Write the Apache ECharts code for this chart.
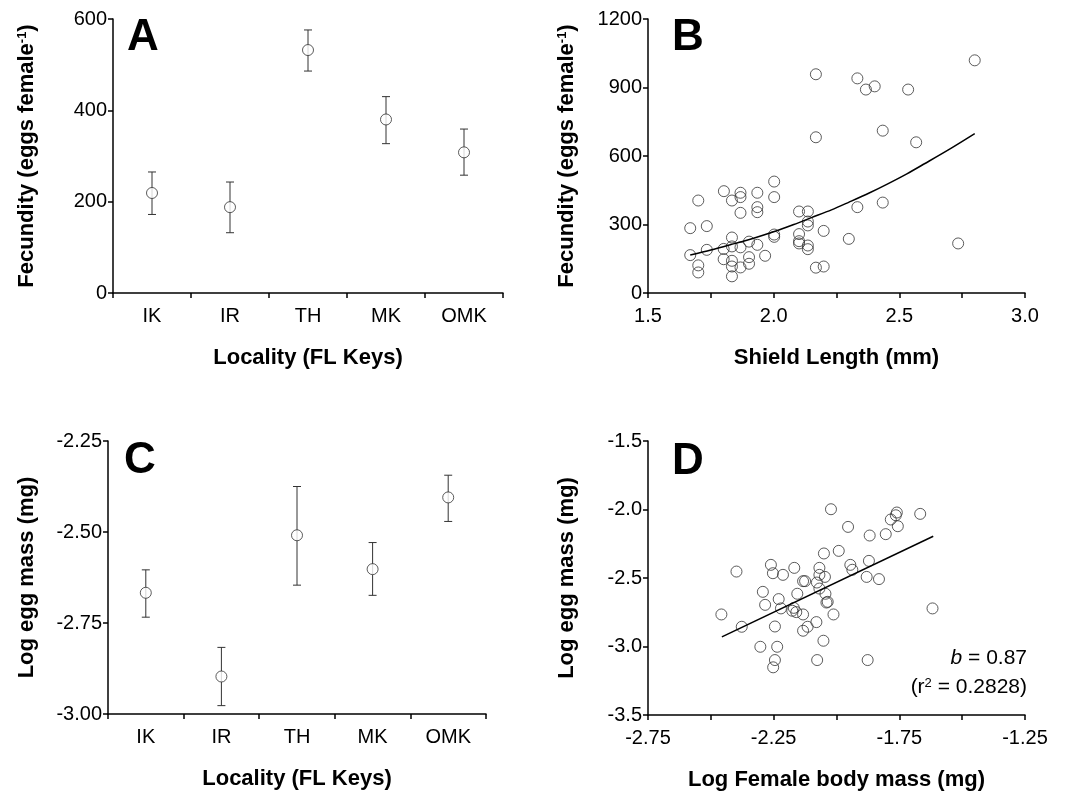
<!DOCTYPE html>
<html>
<head>
<meta charset="utf-8">
<script src="https://cdn.jsdelivr.net/npm/echarts@6.0.0/dist/echarts.min.js"></script>
<style>
  html, body { margin: 0; padding: 0; background: #fff; }
  #main { width: 1084px; height: 792px; }
</style>
</head>
<body>
<div id="main"></div>
<script>
// panel A / C categories
var localities = ['IK', 'IR', 'TH', 'MK', 'OMK'];

// A: fecundity (eggs per female), mean with error bar ends
var fecMean = [219, 188, 532, 380, 308];
var fecLow  = [172, 132, 486, 327, 258];
var fecHigh = [265, 243, 576, 430, 359];

// C: log egg mass (mg)
var eggMean = [-2.667, -2.897, -2.509, -2.602, -2.405];
var eggLow  = [-2.734, -2.977, -2.646, -2.674, -2.471];
var eggHigh = [-2.604, -2.817, -2.375, -2.529, -2.344];

// B: shield length (mm) vs fecundity
var shieldPts = [
  [2.80, 1019], [2.168, 958], [2.333, 940], [2.367, 891], [2.402, 905], [2.535, 891],
  [2.434, 711], [2.168, 682], [2.567, 660], [2.002, 488], [1.802, 446], [1.868, 439],
  [1.868, 420], [1.935, 439], [1.700, 405], [1.834, 405], [2.002, 420], [1.935, 376],
  [1.935, 354], [1.868, 351], [2.101, 357], [2.136, 357], [2.333, 376], [2.434, 396],
  [1.668, 284], [1.734, 293], [2.136, 313], [2.136, 296], [2.199, 272], [2.101, 258],
  [2.002, 256], [2.002, 246], [2.299, 237], [2.734, 217], [2.101, 227], [2.101, 217],
  [2.136, 208], [2.136, 192], [1.834, 243], [1.902, 225], [1.935, 211], [1.801, 193],
  [1.834, 204], [1.868, 200], [1.734, 189], [1.668, 166], [1.966, 163], [1.902, 157],
  [1.801, 148], [1.834, 141], [1.902, 128], [1.700, 121], [1.834, 116], [1.868, 112],
  [1.700, 90], [2.168, 111], [2.199, 116], [1.834, 73]
];
// B: fitted curve
var shieldCurve = [
  [1.668, 166], [1.75, 188], [1.83, 212], [1.92, 240], [2.0, 268], [2.08, 300],
  [2.15, 330], [2.23, 364], [2.3, 398], [2.38, 438], [2.45, 476], [2.53, 522],
  [2.6, 566], [2.7, 630], [2.80, 698]
];

// D: log female body mass vs log egg mass
var massPts = [
  [-2.458, -2.766], [-2.398, -2.453], [-2.377, -2.856], [-2.303, -3.002], [-2.293, -2.601],
  [-2.284, -2.696], [-2.261, -2.404], [-2.253, -2.465], [-2.245, -2.854], [-2.245, -3.099],
  [-2.252, -3.152], [-2.236, -3.002], [-2.230, -2.654], [-2.221, -2.722], [-2.213, -2.477],
  [-2.176, -2.739], [-2.170, -2.718], [-2.168, -2.426], [-2.160, -2.749], [-2.156, -2.615],
  [-2.133, -2.523], [-2.125, -2.523], [-2.133, -2.766], [-2.133, -2.885], [-2.115, -2.856],
  [-2.080, -2.822], [-2.077, -3.099], [-2.078, -2.533], [-2.068, -2.477], [-2.068, -2.426],
  [-2.068, -2.577], [-2.052, -2.958], [-2.050, -2.321], [-2.046, -2.492], [-2.044, -2.615],
  [-2.040, -2.679], [-2.035, -2.674], [-2.022, -1.998], [-2.012, -2.766], [-1.991, -2.302],
  [-1.954, -2.127], [-1.945, -2.404], [-1.937, -2.440], [-1.880, -2.492], [-1.876, -3.099],
  [-1.871, -2.375], [-1.868, -2.190], [-1.831, -2.508], [-1.804, -2.180], [-1.784, -2.073],
  [-1.764, -2.042], [-1.760, -2.022], [-1.756, -2.122], [-1.667, -2.032], [-1.618, -2.722]
];
var massLine = [[-2.456, -2.930], [-1.615, -2.195]];

var FONT = 'Liberation Sans, Arial, sans-serif';

function errorBarItem(params, api) {
  var x = api.value(0);
  var top = api.coord([x, api.value(2)]);
  var bot = api.coord([x, api.value(1)]);
  var h = 4;
  var st = { stroke: '#333', lineWidth: 1 };
  return {
    type: 'group',
    children: [
      { type: 'line', shape: { x1: top[0], y1: top[1], x2: bot[0], y2: bot[1] }, style: st },
      { type: 'line', shape: { x1: top[0] - h, y1: top[1], x2: top[0] + h, y2: top[1] }, style: st },
      { type: 'line', shape: { x1: bot[0] - h, y1: bot[1], x2: bot[0] + h, y2: bot[1] }, style: st }
    ]
  };
}

var axisLineStyle = { show: true, lineStyle: { color: '#000', width: 1.5 } };
var tickStyle = { show: true, length: 5, lineStyle: { color: '#000', width: 1.5 } };
var nameStyle = {
  fontSize: 22, fontWeight: 'bold', color: '#000', fontFamily: FONT,
  rich: { sup: { fontSize: 13, fontWeight: 'bold', color: '#000', fontFamily: FONT, verticalAlign: 'top', lineHeight: 14 } }
};
function lbl(extra) {
  var o = { color: '#000', fontSize: 20, fontFamily: FONT };
  for (var k in extra) o[k] = extra[k];
  return o;
}

function catX(idx) {
  return {
    type: 'category', gridIndex: idx, data: localities, boundaryGap: true,
    name: 'Locality (FL Keys)', nameLocation: 'middle', nameGap: 54, nameTextStyle: nameStyle,
    axisLine: axisLineStyle, axisTick: tickStyle, axisLabel: lbl({ margin: 13 }),
    splitLine: { show: false }
  };
}

var chart = echarts.init(document.getElementById('main'));

chart.setOption({
  animation: false,
  backgroundColor: '#fff',
  grid: [
    { left: 113, top: 19, width: 390, height: 274 },
    { left: 648, top: 19, width: 377, height: 274 },
    { left: 108, top: 441, width: 378, height: 273 },
    { left: 648, top: 441, width: 377, height: 274 }
  ],
  xAxis: [
    catX(0),
    {
      type: 'value', gridIndex: 1, min: 1.5, max: 3.0, interval: 0.25,
      name: 'Shield Length (mm)', nameLocation: 'middle', nameGap: 54, nameTextStyle: nameStyle,
      axisLine: axisLineStyle, axisTick: tickStyle, splitLine: { show: false },
      axisLabel: lbl({
        margin: 13, showMinLabel: true, showMaxLabel: true,
        formatter: function (v) {
          var k = Math.round((v - 1.5) / 0.25);
          return k % 2 === 0 ? v.toFixed(1) : '';
        }
      })
    },
    catX(2),
    {
      type: 'value', gridIndex: 3, min: -2.75, max: -1.25, interval: 0.25,
      name: 'Log Female body mass (mg)', nameLocation: 'middle', nameGap: 54, nameTextStyle: nameStyle,
      axisLine: axisLineStyle, axisTick: tickStyle, splitLine: { show: false },
      axisLabel: lbl({
        margin: 13, showMinLabel: true, showMaxLabel: true,
        formatter: function (v) {
          var k = Math.round((v + 2.75) / 0.25);
          return k % 2 === 0 ? v.toFixed(2) : '';
        }
      })
    }
  ],
  yAxis: [
    {
      type: 'value', gridIndex: 0, min: 0, max: 600, interval: 200,
      name: 'Fecundity (eggs female{sup|-1})', nameLocation: 'middle', nameGap: 75, nameTextStyle: nameStyle,
      axisLine: axisLineStyle, axisTick: tickStyle, splitLine: { show: false },
      axisLabel: lbl({ margin: 6, formatter: function (v) { return String(v); } })
    },
    {
      type: 'value', gridIndex: 1, min: 0, max: 1200, interval: 300,
      name: 'Fecundity (eggs female{sup|-1})', nameLocation: 'middle', nameGap: 70, nameTextStyle: nameStyle,
      axisLine: axisLineStyle, axisTick: tickStyle, splitLine: { show: false },
      axisLabel: lbl({ margin: 6, formatter: function (v) { return String(v); } })
    },
    {
      type: 'value', gridIndex: 2, min: -3.0, max: -2.25, interval: 0.25,
      name: 'Log egg mass (mg)', nameLocation: 'middle', nameGap: 70, nameTextStyle: nameStyle,
      axisLine: axisLineStyle, axisTick: tickStyle, splitLine: { show: false },
      axisLabel: lbl({ margin: 6, formatter: function (v) { return v.toFixed(2); } })
    },
    {
      type: 'value', gridIndex: 3, min: -3.5, max: -1.5, interval: 0.5,
      name: 'Log egg mass (mg)', nameLocation: 'middle', nameGap: 70, nameTextStyle: nameStyle,
      axisLine: axisLineStyle, axisTick: tickStyle, splitLine: { show: false },
      axisLabel: lbl({ margin: 6, formatter: function (v) { return v.toFixed(1); } })
    }
  ],
  series: [
    {
      type: 'custom', xAxisIndex: 0, yAxisIndex: 0, renderItem: errorBarItem, z: 2,
      data: localities.map(function (c, i) { return [i, fecLow[i], fecHigh[i]]; })
    },
    {
      type: 'scatter', xAxisIndex: 0, yAxisIndex: 0, symbol: 'circle', symbolSize: 11, z: 3,
      itemStyle: { color: '#fff', borderColor: '#333', borderWidth: 1 },
      data: fecMean
    },
    {
      type: 'scatter', xAxisIndex: 1, yAxisIndex: 1, symbol: 'circle', symbolSize: 11, z: 3,
      itemStyle: { color: 'rgba(255,255,255,0)', borderColor: '#333', borderWidth: 1 },
      data: shieldPts
    },
    {
      type: 'line', xAxisIndex: 1, yAxisIndex: 1, smooth: 0.3, showSymbol: false, z: 4,
      lineStyle: { color: '#000', width: 1.5 },
      data: shieldCurve
    },
    {
      type: 'custom', xAxisIndex: 2, yAxisIndex: 2, renderItem: errorBarItem, z: 2,
      data: localities.map(function (c, i) { return [i, eggLow[i], eggHigh[i]]; })
    },
    {
      type: 'scatter', xAxisIndex: 2, yAxisIndex: 2, symbol: 'circle', symbolSize: 11, z: 3,
      itemStyle: { color: '#fff', borderColor: '#333', borderWidth: 1 },
      data: eggMean
    },
    {
      type: 'scatter', xAxisIndex: 3, yAxisIndex: 3, symbol: 'circle', symbolSize: 11, z: 3,
      itemStyle: { color: 'rgba(255,255,255,0)', borderColor: '#333', borderWidth: 1 },
      data: massPts
    },
    {
      type: 'line', xAxisIndex: 3, yAxisIndex: 3, showSymbol: false, z: 4,
      lineStyle: { color: '#000', width: 1.5 },
      data: massLine
    }
  ],
  graphic: [
    { type: 'text', x: 127, y: 38, style: { text: 'A', font: 'bold 44px ' + FONT, fill: '#000', textAlign: 'left', textVerticalAlign: 'middle', align: 'left', verticalAlign: 'middle' } },
    { type: 'text', x: 672, y: 38, style: { text: 'B', font: 'bold 44px ' + FONT, fill: '#000', textAlign: 'left', textVerticalAlign: 'middle', align: 'left', verticalAlign: 'middle' } },
    { type: 'text', x: 124, y: 461, style: { text: 'C', font: 'bold 44px ' + FONT, fill: '#000', textAlign: 'left', textVerticalAlign: 'middle', align: 'left', verticalAlign: 'middle' } },
    { type: 'text', x: 672, y: 462, style: { text: 'D', font: 'bold 44px ' + FONT, fill: '#000', textAlign: 'left', textVerticalAlign: 'middle', align: 'left', verticalAlign: 'middle' } },
    {
      type: 'text', x: 1027, y: 658,
      style: {
        text: '{i|b} = 0.87', font: '21px ' + FONT, fill: '#000',
        textAlign: 'right', textVerticalAlign: 'middle', align: 'right', verticalAlign: 'middle',
        rich: { i: { fontStyle: 'italic', fontSize: 21, fontFamily: FONT, fill: '#000' } }
      }
    },
    {
      type: 'text', x: 1027, y: 687,
      style: {
        text: '(r{sup|2} = 0.2828)', font: '21px ' + FONT, fill: '#000',
        textAlign: 'right', textVerticalAlign: 'middle', align: 'right', verticalAlign: 'middle',
        rich: { sup: { fontSize: 13, fontFamily: FONT, fill: '#000', verticalAlign: 'top', lineHeight: 13 } }
      }
    }
  ]
});
</script>
</body>
</html>
